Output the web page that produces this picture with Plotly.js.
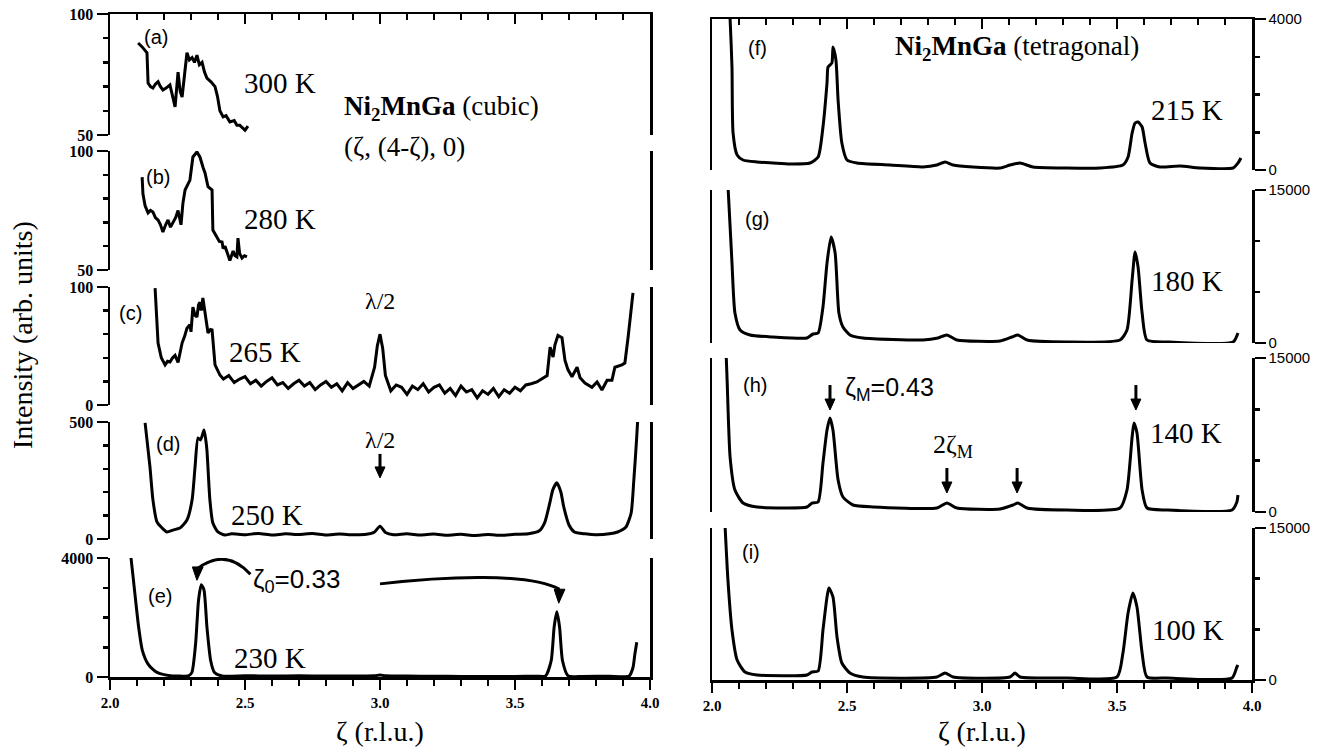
<!DOCTYPE html>
<html><head><meta charset="utf-8">
<script src="https://cdn.plot.ly/plotly-3.0.1.min.js"></script>
<style>html,body{margin:0;padding:0;background:#fff;}#chart{width:1328px;height:749px;}</style>
</head><body><div id="chart"></div>
<script>
// ---- data ----
const zetaA = [2.104,2.119,2.137,2.141,2.150,2.159,2.168,2.178,2.187,2.196,2.209,2.222,2.232,2.241,2.252,2.260,2.267,2.276,2.285,2.294,2.304,2.313,2.322,2.331,2.341,2.350,2.359,2.374,2.389,2.398,2.407,2.419,2.430,2.444,2.460,2.470,2.481,2.490,2.500,2.511];
const intA  = [88,86.4,84,71.5,70,69.4,71,72,70,68.6,69.5,70.7,66,61.6,76,68,65.7,75,84,81,82,80,83,79,80,76,73.5,72,70,66,60,57.5,58,55.4,56,54,54,53,52,53.7];

const zetaB = [2.119,2.122,2.130,2.141,2.150,2.159,2.168,2.178,2.187,2.196,2.206,2.215,2.224,2.233,2.243,2.252,2.263,2.270,2.278,2.296,2.307,2.322,2.333,2.345,2.352,2.363,2.378,2.381,2.389,2.396,2.405,2.415,2.419,2.426,2.433,2.444,2.450,2.456,2.463,2.470,2.474,2.480,2.489,2.498,2.507];
const intB  = [89,82,77,74,75,74.4,72,71,69,66,69,71,68,69.7,72,75,69,78,83.6,87.8,97.5,99.6,97.5,93,90.8,85,83.6,66.8,65,64,62,61.8,59,60,57.6,54,56,58,56,55.5,63.4,57,55,56,55.5];

const zetaC = [2.167,2.172,2.178,2.190,2.204,2.213,2.222,2.232,2.241,2.252,2.260,2.267,2.276,2.285,2.296,2.300,2.307,2.315,2.322,2.328,2.333,2.338,2.344,2.352,2.358,2.363,2.372,2.378,2.389,2.398,2.407,
  2.42,2.44,2.46,2.48,2.50,2.52,2.54,2.56,2.58,2.60,2.62,2.64,2.66,2.68,2.70,2.72,2.74,2.76,2.78,2.80,2.82,2.84,2.86,2.88,2.90,2.92,2.94,2.96,2.98,2.99,3.00,3.01,3.02,3.04,3.06,3.08,3.10,3.12,3.14,3.16,3.18,3.20,3.22,3.24,3.26,3.28,3.30,3.32,3.34,3.36,3.38,3.40,3.42,3.44,3.46,3.48,3.50,3.52,3.54,3.56,
  3.581,3.619,3.630,3.641,3.648,3.659,3.674,3.685,3.696,3.711,3.730,3.741,3.759,3.785,3.804,3.822,3.841,3.859,3.870,3.896,3.907,3.919,3.937];
const intC  = [99,75,52.5,40,34,37,36.4,40,42,36,45,52.5,58,65,68,62,83,76,74.6,85,87,80,90.7,78,66,61,64,63.6,34,30,25.4,
  22,25,19,22,24,18,21,16,20,23,17,19,14,18,21,16,19,13,17,20,15,18,12,19,14,17,20,16,32,50,60,48,25,12,17,15,9,16,13,18,11,15,17,10,14,8,16,11,13,6,12,9,14,7,13,10,15,12,17,18,
  19.5,25,49,40.7,51,59,57,38,30,24,32,23,18.6,15,19.5,12.7,21,21,32,34,35.6,57.6,95];

const zetaD = [2.130,2.148,2.159,2.174,2.193,2.211,2.233,2.259,2.285,2.304,2.315,2.326,2.335,2.341,2.348,2.354,2.359,2.370,2.381,2.400,2.426,2.45,2.5,2.55,2.6,2.65,2.7,2.75,2.8,2.85,2.9,2.95,2.98,3.0,3.02,3.05,3.1,3.15,3.2,3.25,3.3,3.35,3.4,3.45,3.5,3.55,3.59,3.61,3.63,3.64,3.655,3.67,3.68,3.70,3.72,3.76,3.8,3.85,3.88,3.91,3.93,3.94,3.95,3.955];
const intD  = [496,308,167,73,47,30,38,47,81,167,308,432,423,440,466,430,380,167,68,30,17,22,18,24,17,22,19,23,17,21,18,20,30,55,28,18,22,17,21,16,20,15,19,16,20,22,35,70,160,210,240,200,140,60,30,22,18,22,30,50,110,250,420,520];

const zetaE = [2.060,2.077,2.092,2.106,2.120,2.141,2.160,2.176,2.200,2.232,2.260,2.289,2.303,2.317,2.328,2.338,2.348,2.359,2.373,2.387,2.415,2.5,2.6,2.7,2.8,2.9,2.98,3.0,3.02,3.1,3.2,3.3,3.4,3.5,3.58,3.613,3.634,3.645,3.655,3.665,3.676,3.697,3.75,3.85,3.923,3.937,3.944,3.951];
const intE  = [5200,4070,2817,1681,886,432,250,148,80,34,30,34,148,1113,2590,3101,2931,1681,545,148,34,40,35,40,30,35,40,70,40,30,25,20,20,20,25,34,545,1681,2192,1681,545,34,20,25,34,318,772,1170];

const zetaF = [2.062,2.067,2.074,2.078,2.093,2.115,2.167,2.226,2.289,2.363,2.393,2.411,2.426,2.430,2.444,2.448,2.459,2.467,2.481,2.500,2.537,2.659,2.781,2.833,2.863,2.893,2.967,3.067,3.104,3.141,3.189,3.315,3.437,3.522,3.541,3.556,3.567,3.578,3.593,3.604,3.622,3.659,3.733,3.807,3.930,3.948,3.959];
const intF  = [4600,4000,2730,980,397,265,212,185,159,185,344,1139,2305,2730,2834,3258,2914,1854,715,265,185,132,80,132,212,132,80,53,132,185,80,53,53,132,344,980,1245,1271,1139,715,185,80,106,53,53,185,318];

const zetaG = [2.055,2.059,2.074,2.085,2.104,2.141,2.226,2.352,2.374,2.393,2.411,2.426,2.441,2.456,2.470,2.485,2.511,2.559,2.781,2.837,2.870,2.907,3.067,3.111,3.133,3.167,3.315,3.511,3.537,3.556,3.567,3.578,3.593,3.611,3.685,3.930,3.948];
const intG  = [17000,15500,7843,2941,1275,784,588,490,882,980,3530,7843,10392,8824,2941,1569,784,490,294,490,784,294,196,588,784,294,98,294,1275,6176,8922,7451,2941,294,100,100,980];

const zetaH = [2.050,2.056,2.067,2.085,2.115,2.167,2.352,2.370,2.393,2.411,2.426,2.437,2.448,2.467,2.485,2.522,2.596,2.833,2.870,2.907,3.067,3.115,3.133,3.167,3.315,3.511,3.537,3.556,3.563,3.574,3.593,3.611,3.685,3.926,3.944,3.948];
const intH  = [17000,12850,5355,2142,876,487,487,876,974,4771,7984,9153,7984,3116,1460,682,487,390,876,390,292,682,876,390,195,390,2142,7303,8666,7692,2142,390,195,195,974,1655];

const zetaI = [2.046,2.059,2.074,2.093,2.122,2.167,2.352,2.370,2.393,2.411,2.426,2.433,2.448,2.463,2.481,2.511,2.559,2.833,2.863,2.893,3.104,3.122,3.141,3.315,3.500,3.522,3.541,3.559,3.574,3.593,3.611,3.685,3.926,3.944,3.948];
const intI  = [16500,9872,4936,1974,790,494,494,790,888,4936,8194,9082,8194,4245,1678,691,296,296,691,296,296,691,296,200,296,2665,6614,8588,7206,2665,296,200,200,1283,1480];

const panelLabels = ['(a)','(b)','(c)','(d)','(e)','(f)','(g)','(h)','(i)'];
const tempLabels = ['300 K','280 K','265 K','250 K','230 K','215 K','180 K','140 K','100 K'];
const yRanges = [[50,100],[50,100],[0,100],[0,500],[0,4000],[0,4000],[0,15000],[0,15000],[0,15000]];
const minorSteps = [10,10,20,100,1000,1000,5000,5000,5000];
// arrow marks in panel (h): zeta position and peak height the arrow points at
const hArrowZeta = [2.437, 2.87, 3.13, 3.57];
const hArrowTip  = [9932, 1850, 1850, 9932];

// ---- layout geometry ----
const W = 1328, H = 749;
const fx = p => p / W, fy = p => 1 - p / H;
const LEFT_X = [fx(110), fx(650)], RIGHT_X = [fx(712), fx(1252)];
const rows = [[14,135],[151,270],[287,405],[422,539],[558,677],[19,170],[190,343],[358,512],[528,680]];
const zetas = [zetaA,zetaB,zetaC,zetaD,zetaE,zetaF,zetaG,zetaH,zetaI];
const ints = [intA,intB,intC,intD,intE,intF,intG,intH,intI];
const lineShapes = ['linear','linear','linear','spline','spline','spline','spline','spline','spline'];

const SERIF = 'Liberation Serif, Times New Roman, serif';
const SANS = 'Liberation Sans, Arial, sans-serif';

const layout = {
  width: W, height: H, margin: {l:0, r:0, t:0, b:0},
  paper_bgcolor: '#fff', plot_bgcolor: 'rgba(0,0,0,0)', showlegend: false,
  annotations: [], shapes: []
};
const traces = [];

for (let k = 0; k < 9; k++) {
  const n = k + 1;
  const xn = n === 1 ? 'x' : 'x' + n, yn = n === 1 ? 'y' : 'y' + n;
  const xKey = n === 1 ? 'xaxis' : 'xaxis' + n, yKey = n === 1 ? 'yaxis' : 'yaxis' + n;
  const left = k < 5;
  const isTop = (k === 0 || k === 5), isBottom = (k === 4 || k === 8);
  const dom = left ? LEFT_X : RIGHT_X;
  const [top, bot] = rows[k];
  const [lo, hi] = yRanges[k];

  if (isTop || isBottom) {
    layout[xKey] = {
      domain: dom, range: [2, 4], anchor: yn, side: isTop ? 'top' : 'bottom',
      showline: true, linecolor: '#000', linewidth: 2.5,
      ticks: isTop ? 'inside' : 'outside', ticklen: 10, tickwidth: 2.5, tickcolor: '#000',
      tickmode: 'linear', tick0: 2, dtick: 0.5, tickformat: '.1f',
      showticklabels: isBottom,
      tickfont: {family: SERIF, size: 15, color: '#000', weight: 'bold'},
      minor: {tick0: 2, dtick: 0.1, ticks: isTop ? 'inside' : 'outside', ticklen: 6, tickwidth: 2.5, tickcolor: '#000', showgrid: false},
      showgrid: false, zeroline: false, fixedrange: true
    };
  } else {
    layout[xKey] = {domain: dom, range: [2, 4], anchor: yn, visible: false, fixedrange: true};
  }
  layout[yKey] = {
    domain: [fy(bot), fy(top)], range: [lo, hi], anchor: xn, side: left ? 'left' : 'right',
    showline: true, mirror: true, linecolor: '#000', linewidth: 2.5,
    ticks: 'outside', ticklen: 11, tickwidth: 2.5, tickcolor: '#000',
    tickmode: 'linear', tick0: lo, dtick: hi - lo, tickformat: 'd',
    minor: {tick0: lo, dtick: minorSteps[k], ticks: 'outside', ticklen: 5, tickwidth: 2.5, tickcolor: '#000', showgrid: false},
    tickfont: left ? {family: SERIF, size: 16, color: '#000', weight: 'bold'} : {family: SANS, size: 15, color: '#000'},
    showgrid: false, zeroline: false, fixedrange: true
  };
  traces.push({
    x: zetas[k], y: ints[k], xaxis: xn, yaxis: yn, mode: 'lines',
    line: {color: '#000', width: 3, shape: lineShapes[k], smoothing: 0.6},
    hoverinfo: 'skip'
  });
}

function addText(text, px, py, family, size, xanchor) {
  layout.annotations.push({
    text: text, xref: 'paper', yref: 'paper', x: fx(px), y: fy(py),
    xanchor: xanchor || 'center', yanchor: 'middle', showarrow: false,
    font: {family: family, size: size, color: '#000'}
  });
}

// panel labels & temperatures
const panelPos = [[156,37],[158,177],[130,313],[168,444],[160,596],[757,48],[757,219],[755,385],[751,552]];
const tempPos = [[280,83],[280,219],[265,352],[267,515],[270,658],[1187,110],[1187,281],[1186,433],[1188,630]];
for (let k = 0; k < 9; k++) {
  addText(panelLabels[k], panelPos[k][0], panelPos[k][1], SANS, 20);
  addText(tempLabels[k], tempPos[k][0], tempPos[k][1], SERIF, 29);
}

// titles
addText('<b>Ni<sub>2</sub>MnGa</b> (cubic)', 342, 108, SERIF, 27, 'left');
addText('(ζ, (4-ζ), 0)', 342, 147, SERIF, 27, 'left');
addText('<b>Ni<sub>2</sub>MnGa</b> (tetragonal)', 893, 48, SERIF, 27, 'left');
addText('ζ (r.l.u.)', 380, 731, SERIF, 28);
addText('ζ (r.l.u.)', 982, 731, SERIF, 28);
layout.annotations.push({
  text: 'Intensity (arb. units)', xref: 'paper', yref: 'paper', x: fx(22), y: fy(335),
  textangle: -90, showarrow: false, xanchor: 'center', yanchor: 'middle',
  font: {family: SERIF, size: 28, color: '#000'}
});

// in-panel annotations
addText('λ/2', 380, 301, SERIF, 24);
addText('λ/2', 380, 440, SERIF, 24);
addText('ζ<sub>0</sub>=0.33', 251, 580, SANS, 26, 'left');
addText('ζ<sub>M</sub>=0.43', 843, 389, SANS, 25, 'left');
addText('2ζ<sub>M</sub>', 953, 446, SERIF, 26);

// straight down-pointing arrows drawn as shapes (shaft + filled head)
function addArrow(k, xVal, yTip, lenPx) {
  const n = k + 1, xr = n === 1 ? 'x' : 'x' + n, yr = n === 1 ? 'y' : 'y' + n;
  const [top, bot] = rows[k], [lo, hi] = yRanges[k];
  const upp = (hi - lo) / (bot - top);       // data units per pixel (y)
  const xpp = 2 / 540;                        // data units per pixel (x)
  layout.shapes.push({type: 'line', xref: xr, yref: yr, x0: xVal, x1: xVal,
    y0: yTip + lenPx * upp, y1: yTip + 9 * upp, line: {color: '#000', width: 3}});
  layout.shapes.push({type: 'path', xref: xr, yref: yr,
    path: `M ${xVal - 5 * xpp},${yTip + 11 * upp} L ${xVal + 5 * xpp},${yTip + 11 * upp} L ${xVal},${yTip} Z`,
    fillcolor: '#000', line: {color: '#000', width: 1}});
}
addArrow(3, 3.0, 261, 24);
hArrowZeta.forEach((z, i) => addArrow(7, z, hArrowTip[i], 25));

// curved arrows in panel (e)
const arcStyle = {color: '#000', width: 3};
layout.shapes.push(
  {type: 'path', xref: 'x5', yref: 'y5', path: 'M 2.52,3450 Q 2.43,4350 2.325,3650', line: arcStyle},
  {type: 'path', xref: 'x5', yref: 'y5', path: 'M 2.305,3700 L 2.345,3700 L 2.322,3250 Z', fillcolor: '#000', line: {color: '#000', width: 1}},
  {type: 'path', xref: 'x5', yref: 'y5', path: 'M 3.0,3130 C 3.25,3400 3.55,3500 3.665,2950', line: arcStyle},
  {type: 'path', xref: 'x5', yref: 'y5', path: 'M 3.645,2950 L 3.685,2950 L 3.662,2480 Z', fillcolor: '#000', line: {color: '#000', width: 1}}
);

Plotly.newPlot('chart', traces, layout, {displayModeBar: false, staticPlot: true});
</script></body></html>
